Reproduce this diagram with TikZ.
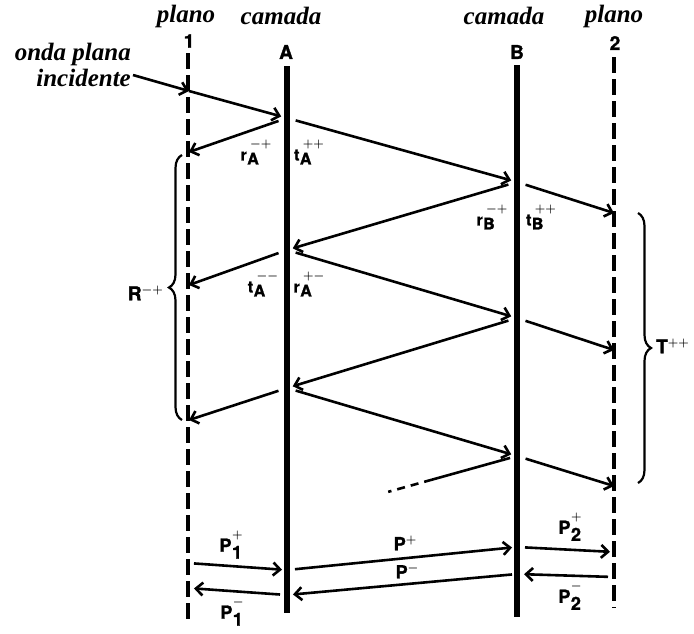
\documentclass[tikz,border=0pt]{standalone}
\usepackage{amsmath,amssymb}
\usepackage{fontspec}
\setmainfont{Liberation Serif}
\setsansfont{TeX Gyre Heros}[BoldFeatures={FakeBold=1.5}]
\usetikzlibrary{arrows.meta,decorations.pathreplacing,calc}

\newcommand{\sgn}[1]{{\fontsize{13}{13}\selectfont\boldmath$#1$}}
\newcommand{\cf}[3]{\raisebox{4pt}{#1}\kern0.5pt\begin{tabular}[b]{@{}l@{}}\hspace{3pt}\sgn{#3}\\#2\end{tabular}}
\newcommand{\pf}[3]{\raisebox{7pt}{#1}\kern0.5pt\begin{tabular}[b]{@{}l@{}}\sgn{#3}\\[2pt]#2\end{tabular}}
\newcommand{\cs}[2]{#1\raisebox{7pt}{\sgn{#2}}}

\begin{document}
\begin{tikzpicture}[x=1pt,y=-1pt,
  lbl/.style={font=\fontsize{25}{26}\selectfont\bfseries\itshape,inner sep=0pt},
  big/.style={font=\sffamily\bfseries\fontsize{19}{19}\selectfont,inner sep=0pt},
  sf/.style={font=\sffamily\bfseries\fontsize{18}{18}\selectfont,inner sep=0pt},
  cof/.style={font=\sffamily\bfseries\fontsize{16}{16}\selectfont,inner sep=0pt},
  layer/.style={line width=6pt},
  plane/.style={line width=3.2pt,dash pattern=on 16pt off 6pt},
  ray/.style={line width=2.6pt,-{Straight Barb[length=7pt,width=13pt]}},
  leave/.style={shorten <=9pt},
  gap/.style={shorten <=9pt,shorten >=6pt},
  brc/.style={line width=2.2pt,decorate,decoration={brace,amplitude=13pt}}]
\useasboundingbox (0,0) rectangle (694,633);

\node[lbl] (pl1) at (186,16) {plano};
\node[lbl] (cmA) at (281,16) {camada};
\node[lbl] (cmB) at (504,16) {camada};
\node[lbl] (pl2) at (614,16) {plano};
\node[lbl,align=right,anchor=east] (onda) at (131,65) {onda plana\\incidente};
\node[big] (n1) at (189,41) {1};
\node[big] (nA) at (286,52) {A};
\node[big] (nB) at (517,52) {B};
\node[big] (n2) at (615,43) {2};

\draw[plane] (188,53) -- (188,620);
\draw[plane] (614,57) -- (614,608);
\draw[layer] (287,66) -- (287,613);
\draw[layer] (517,65) -- (517,617);

\coordinate (src) at (133,75);
\coordinate (l0) at (189,91);
\coordinate (l1) at (189,152);
\coordinate (l2) at (189,285);
\coordinate (l3) at (189,420);
\coordinate (a1) at (287,118);
\coordinate (a2) at (287,250);
\coordinate (a3) at (287,388);
\coordinate (a4) at (287,520);
\coordinate (b1) at (517,182);
\coordinate (b2) at (517,318);
\coordinate (b3) at (517,456);
\coordinate (r1) at (614,213);
\coordinate (r2) at (614,350);
\coordinate (r3) at (614,486);

\draw[ray] (src) -- (l0);
\draw[ray,shorten >=6pt] (l0) -- (a1);
\draw[ray,leave] (a1) -- (l1);
\draw[ray,gap] (a1) -- (b1);
\draw[ray,leave] (b1) -- (r1);
\draw[ray,gap] (b1) -- (a2);
\draw[ray,leave] (a2) -- (l2);
\draw[ray,gap] (a2) -- (b2);
\draw[ray,leave] (b2) -- (r2);
\draw[ray,gap] (b2) -- (a3);
\draw[ray,leave] (a3) -- (l3);
\draw[ray,gap] (a3) -- (b3);
\draw[ray,leave] (b3) -- (r3);
\draw[line width=2.6pt] ($(b3)!0.03!(a4)$) -- ($(b3)!0.37!(a4)$);
\draw[line width=2.6pt,dash pattern=on 8pt off 6pt] ($(b3)!0.37!(a4)$) -- ($(b3)!0.56!(a4)$);

\node[cof] (rA1) at (256,153) {\cf{r}{A}{-+}};
\node[cof] (tA1) at (309,153) {\cf{t}{A}{++}};
\node[cof] (rB1) at (492,218) {\cf{r}{B}{-+}};
\node[cof] (tB1) at (541,218) {\cf{t}{B}{++}};
\node[cof] (tA2) at (263,285) {\cf{t}{A}{--}};
\node[cof] (rA2) at (309,285) {\cf{r}{A}{+-}};

\draw[brc] (182,420) -- (182,155);
\draw[brc] (638,213) -- (638,483);
\node[big,anchor=east] (Rlab) at (163,293) {\cs{R}{-+}};
\node[big,anchor=west] (Tlab) at (656,346) {\cs{T}{++}};

\coordinate (w1) at (188,563);
\coordinate (w2) at (287,570);
\coordinate (w3) at (517,547);
\coordinate (w4) at (614,552);
\coordinate (w5) at (614,577);
\coordinate (w6) at (517,574);
\coordinate (w7) at (287,595);
\coordinate (w8) at (188,588);
\draw[ray,shorten <=6pt,shorten >=5pt] (w1) -- (w2);
\draw[ray,shorten <=8pt,shorten >=5pt] (w2) -- (w3);
\draw[ray,shorten <=8pt,shorten >=4pt] (w3) -- (w4);
\draw[ray,shorten <=6pt,shorten >=7pt] (w5) -- (w6);
\draw[ray,shorten <=5pt,shorten >=6pt] (w6) -- (w7);
\draw[ray,shorten <=7pt,shorten >=6pt] (w7) -- (w8);

\node[sf] (P1p) at (231,545) {\pf{P}{1}{+}};
\node[sf] (P1m) at (232,612) {\pf{P}{1}{-}};
\node[sf] (Pp) at (405,543) {\cs{P}{+}};
\node[sf] (Pm) at (407,571) {\cs{P}{-}};
\node[sf] (P2p) at (570,527) {\pf{P}{2}{+}};
\node[sf] (P2m) at (570,596) {\pf{P}{2}{-}};
\end{tikzpicture}
\end{document}
